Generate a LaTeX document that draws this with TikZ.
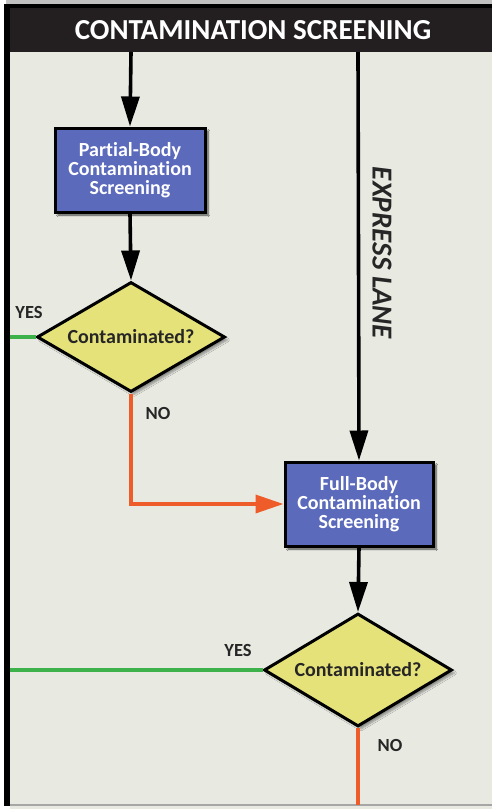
\documentclass[tikz,border=0pt]{standalone}
\usepackage{fontspec}
\setmainfont{Carlito}[Ligatures={NoCommon}]
\usetikzlibrary{shapes.geometric,arrows.meta,shadows.blur}

\definecolor{panelbg}{RGB}{232,234,226}
\definecolor{headbg}{RGB}{35,31,32}
\definecolor{boxblue}{RGB}{92,106,188}
\definecolor{decyellow}{RGB}{230,226,122}
\definecolor{yesgreen}{RGB}{62,178,74}
\definecolor{noorange}{RGB}{238,92,42}
\definecolor{topstrip}{RGB}{192,192,192}

\tikzset{
  stepbox/.style={rectangle, draw=black, line width=3pt, fill=boxblue,
    minimum width=150pt, minimum height=84pt, inner sep=2pt, align=center,
    text=white, font=\bfseries\fontsize{20}{19}\selectfont,
    blur shadow={shadow xshift=3pt, shadow yshift=-3pt, shadow blur steps=6, shadow opacity=40}},
  decision/.style={diamond, draw=black, line width=3pt, fill=decyellow,
    minimum width=188pt, minimum height=110pt, inner sep=0pt,
    blur shadow={shadow xshift=3pt, shadow yshift=-3pt, shadow blur steps=6, shadow opacity=40}},
  flow/.style={line width=3.6pt, draw=black, -{Triangle[length=30pt,width=18pt]}},
  yesline/.style={line width=3.6pt, draw=yesgreen},
  noline/.style={line width=3.6pt, draw=noorange},
  noarrow/.style={noline, -{Triangle[length=28pt,width=18pt]}},
  answer/.style={font=\bfseries\fontsize{18.5}{20}\selectfont, text=black!85},
  question/.style={font=\bfseries\fontsize{20}{22}\selectfont, text=black!85}
}

\begin{document}
\begin{tikzpicture}[x=1pt,y=-1pt]
  \useasboundingbox (0,0) rectangle (492,809);
  % page, panel and frame
  \fill[white] (0,0) rectangle (492,809);
  \fill[topstrip] (6,0) rectangle (492,4);
  \fill[panelbg] (10,52) rectangle (492,809);
  \fill[black!35] (10,804) rectangle (492,805.5);
  \fill[black] (4,4) rectangle (10,806);
  \fill[black] (4,4) rectangle (492,8);
  \fill[headbg] (10,8) rectangle (492,52);
  \node[text=white, font=\bfseries\fontsize{29}{32}\selectfont] (title) at (253,30) {CONTAMINATION SCREENING};

  % entry points on the header
  \coordinate (inA) at (131,52);
  \coordinate (inB) at (358,52);
  \coordinate (yesA) at (10,337);
  \coordinate (yesB) at (10,670);
  \coordinate (outB) at (358,805);

  % process boxes and decisions
  \node[stepbox] (partial) at (130,170) {Partial-Body\\Contamination\\Screening};
  \node[decision, label={[question]center:Contaminated?}] (d1) at (131,337) {};
  \node[stepbox, minimum width=148pt] (full) at (359,504) {Full-Body\\Contamination\\Screening};
  \node[decision, minimum height=113pt, label={[question]center:Contaminated?}] (d2) at (358,670) {};

  % connectors
  \draw[flow] (inA) -- (partial.north);
  \draw[flow] (partial.south) -- (d1.north);
  \draw[flow] (inB) -- (full.north);
  \draw[flow] (full.south) -- (d2.north);
  \draw[yesline] (yesA) -- (d1.west);
  \draw[noarrow] (d1.south) |- (full.west);
  \draw[yesline] (yesB) -- (d2.west);
  \draw[noline] (d2.south) -- (outB);

  % redraw shapes over the line ends
  \node[stepbox] at (partial) {Partial-Body\\Contamination\\Screening};
  \node[stepbox, minimum width=148pt] at (full) {Full-Body\\Contamination\\Screening};

  % labels
  \node[answer] (yes1) at (29,312) {YES};
  \node[answer] (no1) at (158,413) {NO};
  \node[answer] (yes2) at (238,650) {YES};
  \node[answer] (no2) at (390,745) {NO};
  \node[rotate=-90, font=\bfseries\itshape\fontsize{29}{30}\selectfont, text=black!85] (express) at (382,253) {EXPRESS LANE};
\end{tikzpicture}
\end{document}
